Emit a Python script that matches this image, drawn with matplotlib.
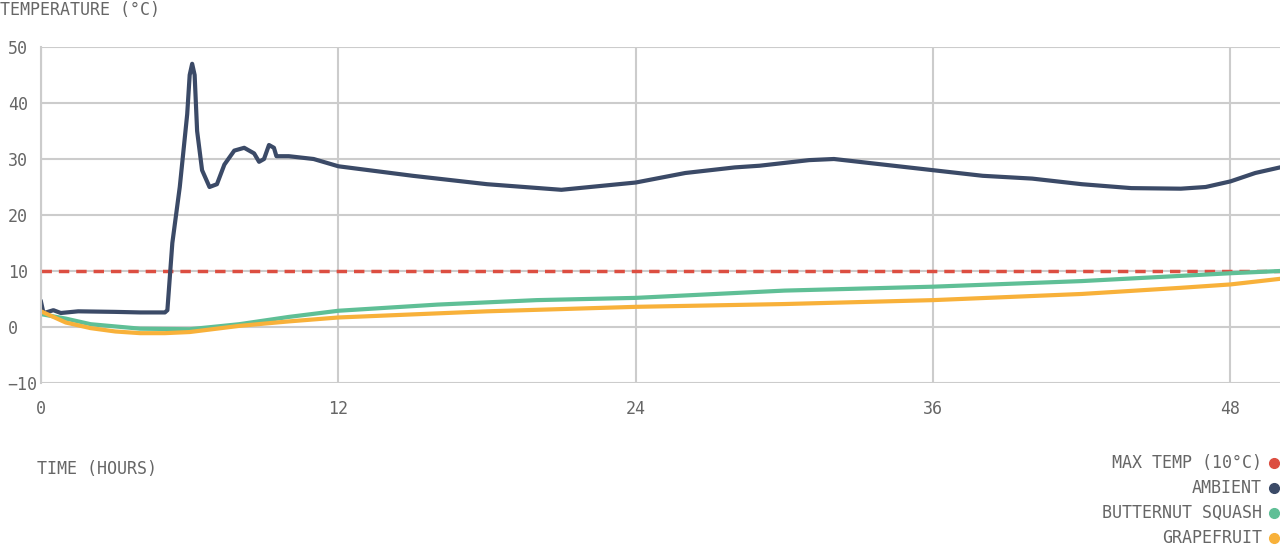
import matplotlib
matplotlib.use("Agg")
import matplotlib.pyplot as plt

amb_t = [0, 0.1, 0.2, 0.5, 0.8, 1.5, 3, 4, 5, 5.1, 5.3, 5.6, 5.9, 6.0, 6.1, 6.2, 6.3, 6.5, 6.8, 7.1, 7.4, 7.8, 8.2, 8.6, 8.8, 9.0, 9.2, 9.4, 9.5, 10, 11, 12, 15, 18, 21, 24, 26, 28, 29, 31, 32, 34, 36, 38, 40, 42, 44, 46, 47, 48, 49, 50]
amb_v = [4.5, 2.5, 2.6, 3, 2.5, 2.8, 2.7, 2.6, 2.6, 3, 15, 25, 38, 45, 47, 45, 35, 28, 25, 25.5, 29, 31.5, 32, 31, 29.5, 30, 32.5, 32, 30.5, 30.5, 30, 28.7, 27, 25.5, 24.5, 25.8, 27.5, 28.5, 28.8, 29.8, 30, 29, 28, 27, 26.5, 25.5, 24.8, 24.7, 25, 26, 27.5, 28.5]
sq_t = [0, 1, 2, 4, 6, 8, 10, 12, 16, 20, 24, 30, 36, 42, 48, 50]
sq_v = [2.3, 1.5, 0.5, -0.3, -0.4, 0.5, 1.8, 2.9, 4, 4.8, 5.2, 6.5, 7.2, 8.2, 9.6, 10]
gf_t = [0, 1, 2, 3, 4, 5, 6, 8, 10, 12, 18, 24, 30, 36, 42, 46, 48, 50]
gf_v = [2.8, 0.8, -0.2, -0.8, -1.1, -1.1, -0.9, 0.2, 1, 1.7, 2.8, 3.6, 4.1, 4.8, 5.9, 7, 7.6, 8.6]
max_temp = 10
x_ticks = [0, 12, 24, 36, 48]
y_ticks = [-10, 0, 10, 20, 30, 40, 50]
names = ["MAX TEMP (10°C)", "AMBIENT", "BUTTERNUT SQUASH", "GRAPEFRUIT"]
colors = ["#dc4e41", "#3b4a67", "#5fbf96", "#f8b13a"]

plt.rcParams['font.family'] = ['DejaVu Sans Mono']
tc = "#666666"
fs = 12
fig = plt.figure(figsize=(12.8, 5.49), dpi=100)
ax = fig.add_axes([41/1280, 166/549, 1 - 41/1280, 336/549])
ax.set_xlim(0, 50)
ax.set_ylim(-10, 50)
ax.set_xticks(x_ticks)
ax.set_yticks(y_ticks)
ax.grid(True, color="#cccccc", lw=1.5)
ax.set_axisbelow(True)
for s in ["top", "right", "bottom"]:
    ax.spines[s].set_visible(False)
ax.spines["left"].set_color("#cccccc")
ax.spines["left"].set_linewidth(1.5)
ax.tick_params(length=0, labelsize=fs, colors=tc)
ax.tick_params(axis='x', pad=12)
ax.tick_params(axis='y', pad=24)
for lab in ax.get_yticklabels():
    lab.set_horizontalalignment("left")

ax.axhline(max_temp, color=colors[0], lw=2.5, ls=(0, (3, 2)))
ax.plot(amb_t, amb_v, color=colors[1], lw=3, solid_joinstyle="round")
ax.plot(sq_t, sq_v, color=colors[2], lw=3)
ax.plot(gf_t, gf_v, color=colors[3], lw=3)

fig.text(0, 1 - 10/549, "TEMPERATURE (°C)", fontsize=fs, color=tc, va="center", ha="left")
fig.text(37/1280, 1 - 469/549, "TIME (HOURS)", fontsize=fs, color=tc, va="center", ha="left")
for i, (n, c) in enumerate(zip(names, colors)):
    y = 1 - (463 + 25 * i) / 549
    fig.text(1262/1280, y, n, fontsize=fs, color=tc, va="center", ha="right")
    fig.lines.append(matplotlib.lines.Line2D([1274/1280], [y], marker="o", ms=7, color=c, transform=fig.transFigure, figure=fig))

fig.savefig("out.png", dpi=100)
